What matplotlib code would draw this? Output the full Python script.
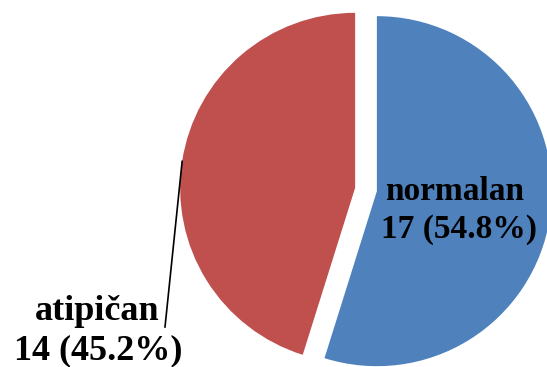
import numpy as np
import matplotlib
matplotlib.use("Agg")
import matplotlib.pyplot as plt

categories = ["normalan", "atipičan"]
counts = [17, 14]
colors = ["#4F81BD", "#C0504D"]

W, H = 547, 367
fig = plt.figure(figsize=(W / 100, H / 100), dpi=100)
ax = fig.add_axes([0, 0, 1, 1])

center = (366, 177.5)
radius = 175
explode = [11, 11]

wedges, _ = ax.pie(counts, colors=colors, startangle=90, counterclock=False,
                   center=center, radius=radius, explode=explode,
                   wedgeprops=dict(linewidth=0), frame=True)
ax.set_xlim(0, W)
ax.set_ylim(0, H)
ax.set_aspect("equal")
ax.axis("off")

total = sum(counts)
names = categories
values = [f"{n} ({n / total * 100:.1f}%)" for n in counts]

font = dict(family="Liberation Serif", weight="bold", va="baseline", ha="center")

# normalan label inside blue slice
ax.text(455, 167, names[0], fontsize=24, **font)
ax.text(459, 129, values[0], fontsize=24, **font)

# atipičan label outside with leader line
ax.text(97, 47, names[1], fontsize=26, **font)
ax.text(98, 8, values[1], fontsize=26, **font)

w = wedges[1]
tm = np.deg2rad((w.theta1 + w.theta2) / 2)
cx, cy = w.center
px, py = cx + w.r * np.cos(tm), cy + w.r * np.sin(tm)
ax.plot([165, px], [40, py], color="black", lw=1.2)

fig.savefig("out.png", dpi=100)
